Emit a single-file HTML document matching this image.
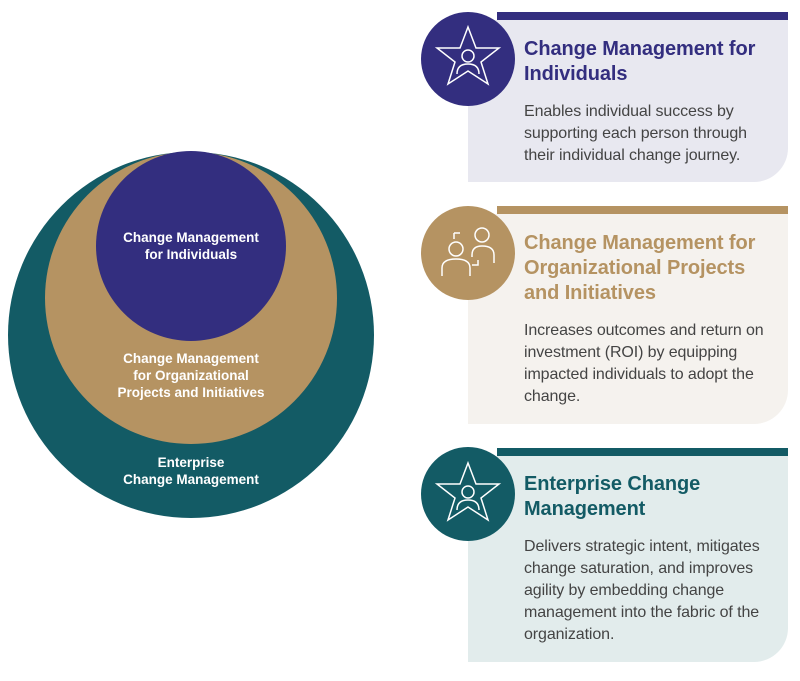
<!DOCTYPE html>
<html><head><meta charset="utf-8"><style>
body{margin:0;width:800px;height:681px;background:#fff;font-family:"Liberation Sans",sans-serif;position:relative;overflow:hidden}
.card{position:absolute;left:468px;width:320px;border-bottom-right-radius:34px}
.bar{position:absolute;left:497px;width:291px;height:8px}
.ic{position:absolute;left:421px;width:94px;height:94px;border-radius:50%}
.t{position:absolute;left:524px;font-size:20px;line-height:25px;font-weight:bold;letter-spacing:-0.1px}
.b{position:absolute;left:524px;font-size:16px;line-height:22px;color:#444;letter-spacing:-0.1px}
.c{position:absolute;color:#fff;font-weight:bold;font-size:13.5px;line-height:17px;text-align:center;width:240px;left:71px}
</style></head><body>
<svg width="400" height="681" style="position:absolute;left:0;top:0">
<circle cx="191" cy="335" r="183" fill="#135b65"/>
<circle cx="191" cy="298" r="146" fill="#b59362"/>
<circle cx="191" cy="246" r="95" fill="#332e7f"/>
</svg>
<div class="c" style="top:229px">Change Management<br>for Individuals</div>
<div class="c" style="top:350px">Change Management<br>for Organizational<br>Projects and Initiatives</div>
<div class="c" style="top:454px">Enterprise<br>Change Management</div>

<div class="card" style="top:20px;height:162px;background:#e8e8f0"></div>
<div class="bar" style="top:12px;background:#332e7f"></div>
<div class="ic" style="top:12px;background:#332e7f"></div>
<div class="t" style="top:37px;color:#332e7f">Change Management for<br>Individuals</div>
<div class="b" style="top:101px">Enables individual success by<br>supporting each person through<br>their individual change journey.</div>

<div class="card" style="top:214px;height:210px;background:#f5f2ee"></div>
<div class="bar" style="top:206px;background:#b59362"></div>
<div class="ic" style="top:206px;background:#b59362"></div>
<div class="t" style="top:231px;color:#b59362">Change Management for<br>Organizational Projects<br>and Initiatives</div>
<div class="b" style="top:320px">Increases outcomes and return on<br>investment (ROI) by equipping<br>impacted individuals to adopt the<br>change.</div>

<div class="card" style="top:456px;height:206px;background:#e2ecec"></div>
<div class="bar" style="top:448px;background:#135b65"></div>
<div class="ic" style="top:447px;background:#135b65"></div>
<div class="t" style="top:472px;color:#135b65">Enterprise Change<br>Management</div>
<div class="b" style="top:536px">Delivers strategic intent, mitigates<br>change saturation, and improves<br>agility by embedding change<br>management into the fabric of the<br>organization.</div>

<svg width="800" height="681" style="position:absolute;left:0;top:0" fill="none" stroke="#fff" stroke-width="1.5">
<g transform="translate(468,58)"><polygon points="0,-31 8,-10 31,-10 13,4 20,26 0,13 -20,26 -13,4 -31,-10 -8,-10"/><circle cx="0" cy="-2" r="6"/><path d="M-11,16 q0,-10 11,-10 q11,0 11,10"/></g>
<g transform="translate(468,494)"><polygon points="0,-31 8,-10 31,-10 13,4 20,26 0,13 -20,26 -13,4 -31,-10 -8,-10"/><circle cx="0" cy="-2" r="6"/><path d="M-11,16 q0,-10 11,-10 q11,0 11,10"/></g>
<g transform="translate(468,253)"><circle cx="-12" cy="-4" r="7"/><path d="M-26,23 v-8 q0,-9 14,-9 q14,0 14,9 v8"/><circle cx="14" cy="-18" r="7"/><path d="M4,4 v-2 q0,-9 10,-9 q12,0 12,9 v8"/><path d="M-14,-20 h6 M-14,-20 v6 M4,12 h6 v-5"/></g>
</svg>
</body></html>
